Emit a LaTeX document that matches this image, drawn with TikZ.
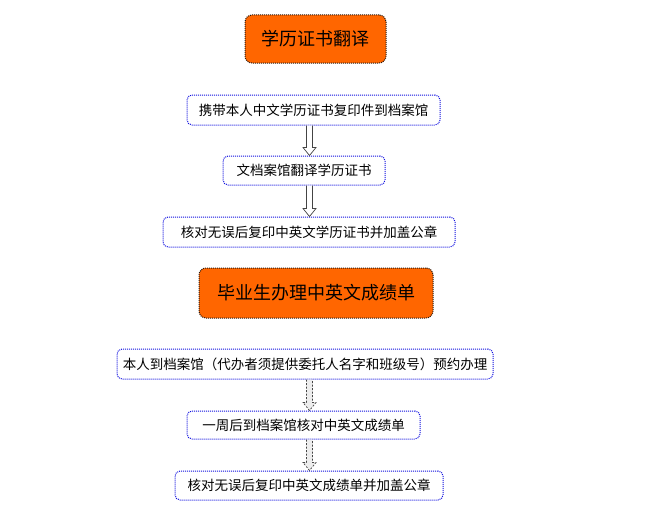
\documentclass[tikz,border=0pt]{standalone}
\usepackage{fontspec}
\setmainfont{Noto Sans CJK SC}
\usepackage{tikz}
\usetikzlibrary{calc}
\definecolor{Flame}{HTML}{FF6600}
\definecolor{Edge}{HTML}{1010E0}
\definecolor{Rim}{HTML}{2A1A10}
\definecolor{Shaft}{HTML}{444444}
\definecolor{Haze}{HTML}{EDEDED}

\begin{document}
\begin{tikzpicture}[x=1pt,y=-1pt,
    stepbox/.style={draw=Edge,fill=white,line width=1pt,dash pattern=on 1pt off 1pt,rounded corners=5pt,inner sep=0pt,font=\fontsize{13.5}{16}\selectfont},
    titlebox/.style={draw=Rim,fill=Flame,line width=1pt,dash pattern=on 1pt off 1pt,rounded corners=7pt,inner sep=0pt,font=\fontsize{18}{22}\selectfont},
    hollow/.style={draw=Shaft,fill=white,line width=.7pt},
    hollowdash/.style={draw=Shaft,fill=Haze,line width=.7pt,dash pattern=on 2pt off 1.5pt}]
      \useasboundingbox (0,0) rectangle (655,511);
      \coordinate (ax) at (309.5,0);
      % diploma translation
      \node[titlebox,minimum width=141pt,minimum height=48pt] (dip) at (315.5,39) {学历证书翻译};
      \node[stepbox,minimum width=253pt,minimum height=30pt] (bring) at (313.5,110) {携带本人中文学历证书复印件到档案馆};
      \node[stepbox,minimum width=162pt,minimum height=29pt] (trans) at (304,170.5) {文档案馆翻译学历证书};
      \node[stepbox,minimum width=292pt,minimum height=30pt] (seal) at (309,232) {核对无误后复印中英文学历证书并加盖公章};
      \draw[hollow] let \p1=(bring.south -| ax), \p2=(trans.north -| ax) in
        (\x1-3,\y1) -- (\x1-3,\y2+8) -- (\x1-6.5,\y2+8) -- (\x2,\y2) -- (\x1+6.5,\y2+8) -- (\x1+3,\y2+8) -- (\x1+3,\y1);
      \draw[hollow] let \p1=(trans.south -| ax), \p2=(seal.north -| ax) in
        (\x1-3,\y1) -- (\x1-3,\y2+8) -- (\x1-6.5,\y2+8) -- (\x2,\y2) -- (\x1+6.5,\y2+8) -- (\x1+3,\y2+8) -- (\x1+3,\y1);
      % transcript
      \node[titlebox,minimum width=234pt,minimum height=50pt] (trs) at (316,293) {毕业生办理中英文成绩单};
      \node[stepbox,minimum width=376pt,minimum height=30pt] (book) at (305,364) {本人到档案馆（代办者须提供委托人名字和班级号）预约办理};
      \node[stepbox,minimum width=233pt,minimum height=28pt] (check) at (303.5,425) {一周后到档案馆核对中英文成绩单};
      \node[stepbox,minimum width=268pt,minimum height=29pt] (stamp) at (309,485.5) {核对无误后复印中英文成绩单并加盖公章};
      \draw[hollowdash] let \p1=(book.south -| ax), \p2=(check.north -| ax) in
        (\x1-3,\y1) -- (\x1-3,\y2+8) -- (\x1-6.5,\y2+8) -- (\x2,\y2) -- (\x1+6.5,\y2+8) -- (\x1+3,\y2+8) -- (\x1+3,\y1);
      \draw[hollowdash] let \p1=(check.south -| ax), \p2=(stamp.north -| ax) in
        (\x1-3,\y1) -- (\x1-3,\y2+8) -- (\x1-6.5,\y2+8) -- (\x2,\y2) -- (\x1+6.5,\y2+8) -- (\x1+3,\y2+8) -- (\x1+3,\y1);
    \end{tikzpicture}
\end{document}
